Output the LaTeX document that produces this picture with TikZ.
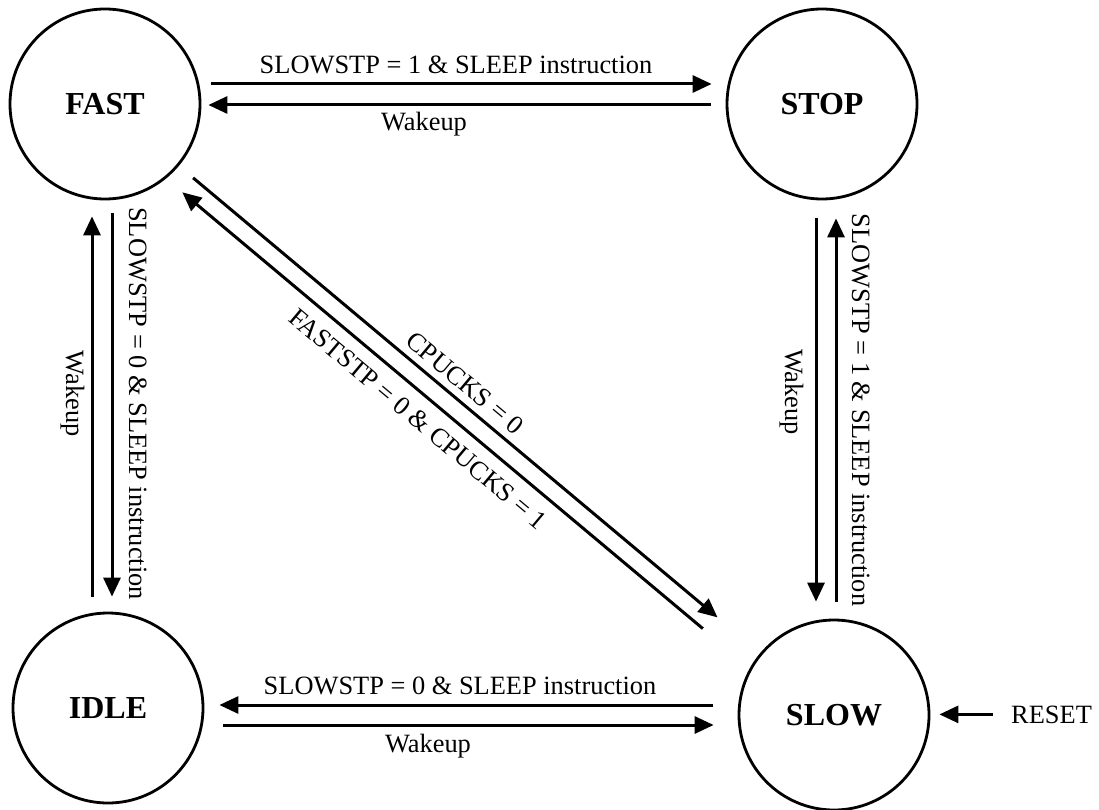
\documentclass[tikz,border=0pt]{standalone}
\usepackage{fontspec}
\setmainfont{Liberation Serif}
\usetikzlibrary{arrows.meta,calc}
\begin{document}
\begin{tikzpicture}[x=1pt,y=-1pt,
  state/.style={circle,draw,line width=2.8pt,minimum size=190pt,inner sep=0pt,
    font=\fontsize{32}{36}\selectfont\bfseries},
  arr/.style={line width=3pt,-{Triangle[length=19pt,width=17pt]}},
  lbl/.style={inner sep=0pt,font=\fontsize{26.4}{30}\selectfont},
]
\fill[white] (0,0) rectangle (1099,810);
\useasboundingbox (0,0) rectangle (1099,810);

% states
\node[state] (fast) at (105,104) {FAST};
\node[state] (stop) at (822,104) {STOP};
\node[state] (idle) at (108,708) {IDLE};
\node[state] (slow) at (834,715) {SLOW};

% FAST <-> STOP
\draw[arr,shorten <=10pt,shorten >=14pt] ([yshift=20pt]fast.east) -- ([yshift=20pt]stop.west);
\draw[arr,shorten <=15pt,shorten >=7pt] ([yshift=-1pt]stop.west) -- ([yshift=-1pt]fast.east);
\node[lbl,anchor=base] (lfs) at (456,74) {SLOWSTP = 1 \& SLEEP instruction};
\node[lbl,anchor=base] (lsf) at (424,131) {Wakeup};

% FAST <-> IDLE
\draw[arr,shorten <=15pt,shorten >=16pt] ([xshift=-16pt]idle.north) -- ([xshift=-13pt]fast.south);
\draw[arr,shorten <=13pt,shorten >=15pt] ([xshift=7pt]fast.south) -- ([xshift=4pt]idle.north);
\node[lbl,anchor=base,rotate=-90] (lfi) at (129,403.5) {SLOWSTP = 0 \& SLEEP instruction};
\node[lbl,anchor=base,rotate=-90] (lif) at (66,393.5) {Wakeup};

% STOP <-> SLOW
\draw[arr,shorten <=18pt,shorten >=17pt] ([xshift=-6pt]stop.south) -- ([xshift=-18pt]slow.north);
\draw[arr,shorten <=17pt,shorten >=18pt] ([xshift=2pt]slow.north) -- ([xshift=14pt]stop.south);
\node[lbl,anchor=base,rotate=-90] (lsl) at (852,410) {SLOWSTP = 1 \& SLEEP instruction};
\node[lbl,anchor=base,rotate=-90] (lts) at (785,392) {Wakeup};

% SLOW <-> IDLE
\draw[arr,shorten <=25pt,shorten >=15pt] ([yshift=10pt]slow.west) -- ([yshift=3pt]idle.east);
\draw[arr,shorten <=19pt,shorten >=24pt] ([yshift=-17pt]idle.east) -- ([yshift=-10pt]slow.west);
\node[lbl,anchor=base] (lsi) at (460,694) {SLOWSTP = 0 \& SLEEP instruction};
\node[lbl,anchor=base] (lis) at (428,752) {Wakeup};

% FAST <-> SLOW
\draw[arr,shorten <=115pt,shorten >=152pt] (fast.center) -- (slow.center);
\draw[arr,shorten <=156pt,shorten >=116pt]
  ([xshift=-11.6pt,yshift=-13.8pt]slow.center) -- ([xshift=-11.6pt,yshift=-13.8pt]fast.center);
\node[lbl,rotate=-40] (lcs) at (465,383) {CPUCKS = 0};
\node[lbl,rotate=-40] (lcf) at (418,419) {FASTSTP = 0 \& CPUCKS = 1};

% reset
\node[lbl,anchor=base west] (reset) at (1011,723) {RESET};
\draw[arr,shorten <=18pt,shorten >=9pt] (reset.west) -- (slow.east |- reset.west);
\end{tikzpicture}
\end{document}
